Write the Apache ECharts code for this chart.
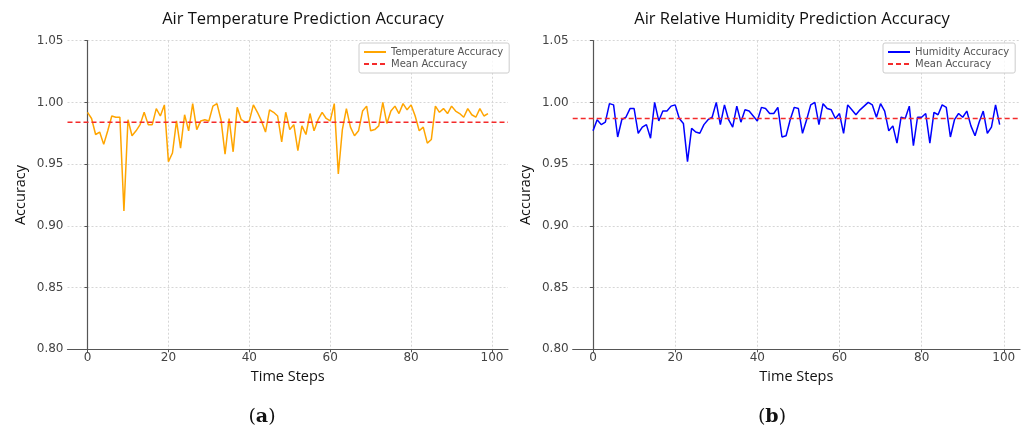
<!DOCTYPE html>
<html>
<head>
<meta charset="utf-8">
<script src="https://cdn.jsdelivr.net/npm/echarts@6/dist/echarts.min.js"></script>
<style>html,body{margin:0;padding:0;background:#fff;}#c{width:1025px;height:432px;}</style>
</head>
<body>
<div id="c"></div>
<script>
// ---- data ----
const timeSteps = Array.from({length: 100}, (_, i) => i);
const temperatureAccuracy = [
  0.992, 0.987, 0.974, 0.976, 0.966, 0.977, 0.989, 0.988, 0.988, 0.912,
  0.986, 0.973, 0.977, 0.982, 0.992, 0.982, 0.982, 0.995, 0.989, 0.998,
  0.952, 0.959, 0.985, 0.963, 0.990, 0.977, 0.999, 0.978, 0.985, 0.986,
  0.985, 0.997, 0.999, 0.986, 0.958, 0.987, 0.960, 0.996, 0.986, 0.984,
  0.985, 0.998, 0.992, 0.985, 0.976, 0.994, 0.992, 0.989, 0.968, 0.992,
  0.978, 0.982, 0.961, 0.981, 0.974, 0.991, 0.977, 0.986, 0.992, 0.987,
  0.985, 0.999, 0.942, 0.978, 0.995, 0.980, 0.973, 0.977, 0.993, 0.997,
  0.977, 0.978, 0.981, 1.000, 0.983, 0.993, 0.997, 0.991, 0.999, 0.994,
  0.998, 0.989, 0.977, 0.980, 0.967, 0.970, 0.997, 0.992, 0.995, 0.991,
  0.997, 0.993, 0.991, 0.988, 0.995, 0.990, 0.988, 0.995, 0.989, 0.991
];
const humidityAccuracy = [
  0.977, 0.986, 0.982, 0.984, 0.999, 0.998, 0.972, 0.986, 0.988, 0.995,
  0.995, 0.975, 0.980, 0.982, 0.971, 1.000, 0.985, 0.993, 0.993, 0.997,
  0.998, 0.987, 0.983, 0.952, 0.979, 0.976, 0.975, 0.982, 0.986, 0.988,
  1.000, 0.982, 0.998, 0.986, 0.980, 0.997, 0.984, 0.994, 0.993, 0.989,
  0.985, 0.996, 0.995, 0.991, 0.991, 0.996, 0.972, 0.973, 0.986, 0.996,
  0.995, 0.975, 0.986, 0.998, 1.000, 0.982, 0.999, 0.995, 0.994, 0.987,
  0.991, 0.975, 0.998, 0.994, 0.990, 0.994, 0.997, 1.000, 0.998, 0.988,
  0.999, 0.993, 0.977, 0.981, 0.967, 0.988, 0.987, 0.997, 0.965, 0.988,
  0.988, 0.991, 0.967, 0.992, 0.990, 0.998, 0.996, 0.972, 0.986, 0.991,
  0.988, 0.993, 0.981, 0.973, 0.984, 0.993, 0.975, 0.980, 0.998, 0.982
];
const temperatureMean = 0.984;
const humidityMean = 0.987;
const xTicks = [0, 20, 40, 60, 80, 100];
const yTicks = [0.80, 0.85, 0.90, 0.95, 1.00, 1.05];
const xRange = [-4.95, 103.95];
const yRange = [0.80, 1.05];
const titles = ['Air Temperature Prediction Accuracy', 'Air Relative Humidity Prediction Accuracy'];
const panelLabels = ['a', 'b'];

// ---- chart ----
const chart = echarts.init(document.getElementById('c'), null, {renderer: 'canvas'});
const tickFont = 'DejaVu Sans';
const textFont = 'Open Sans';
const axisColor = '#555';

function xAxisDef(gridIndex) {
  return {
    type: 'value', gridIndex, min: xRange[0], max: xRange[1],
    name: 'Time Steps', nameLocation: 'middle', nameGap: 18,
    nameTextStyle: {fontFamily: textFont, fontSize: 14.5, color: '#111'},
    axisLine: {show: true, onZero: false, lineStyle: {color: axisColor, width: 1.2}},
    axisTick: {show: true, length: 3, customValues: xTicks, lineStyle: {color: axisColor}},
    axisLabel: {customValues: xTicks, margin: 3, fontFamily: tickFont, fontSize: 12, color: '#444'},
    splitLine: {show: true, lineStyle: {color: '#d6d6d6', type: [2, 2], width: 1}}
  };
}
function yAxisDef(gridIndex) {
  return {
    type: 'value', gridIndex, min: yRange[0], max: yRange[1], interval: 0.05,
    name: 'Accuracy', nameLocation: 'middle', nameGap: 39, nameRotate: 90,
    nameTextStyle: {fontFamily: textFont, fontSize: 14.5, color: '#111'},
    axisLine: {show: true, lineStyle: {color: axisColor, width: 1.2}},
    axisTick: {show: true, length: 3, lineStyle: {color: axisColor}},
    axisLabel: {margin: 4, fontFamily: tickFont, fontSize: 12, color: '#444',
      formatter: v => v.toFixed(2)},
    splitLine: {show: true, lineStyle: {color: '#d6d6d6', type: [2, 2], width: 1}}
  };
}
function pairs(ys) { return timeSteps.map((x, i) => [x, ys[i]]); }
function meanLine(m) { return [[xRange[0], m], [xRange[1], m]]; }

const legendText = {fontFamily: tickFont, fontSize: 10, color: '#555', lineHeight: 10};
function legendDef(names, left) {
  return {data: names, left, top: 43, orient: 'vertical',
    itemWidth: 22, itemHeight: 8, itemGap: 2, padding: [4, 6, 4, 4],
    borderColor: '#ccc', borderWidth: 1, borderRadius: 2, backgroundColor: 'rgba(255,255,255,0.8)',
    itemStyle: {opacity: 0},
    textStyle: legendText, formatter: n => n.replace(/ [AB]$/, '')};
}

chart.setOption({
  animation: false,
  backgroundColor: '#fff',
  title: [
    {text: titles[0], left: 298, top: 6, textAlign: 'center',
     textStyle: {fontFamily: textFont, fontSize: 16.5, fontWeight: 'normal', color: '#111'}},
    {text: titles[1], left: 787, top: 6, textAlign: 'center',
     textStyle: {fontFamily: textFont, fontSize: 16.5, fontWeight: 'normal', color: '#111'}}
  ],
  grid: [
    {left: 67.5, top: 40.7, width: 440.5, height: 308.6},
    {left: 572.7, top: 40.7, width: 447.3, height: 308.6}
  ],
  xAxis: [xAxisDef(0), xAxisDef(1)],
  yAxis: [yAxisDef(0), yAxisDef(1)],
  legend: [
    legendDef(['Temperature Accuracy', 'Mean Accuracy A'], 359),
    legendDef(['Humidity Accuracy', 'Mean Accuracy B'], 883)
  ],
  series: [
    {name: 'Temperature Accuracy', type: 'line', xAxisIndex: 0, yAxisIndex: 0, data: pairs(temperatureAccuracy),
     showSymbol: false, symbol: 'none', lineStyle: {color: '#FFA500', width: 1.5}, itemStyle: {color: '#FFA500'}, z: 2},
    {name: 'Mean Accuracy A', type: 'line', xAxisIndex: 0, yAxisIndex: 0, data: meanLine(temperatureMean),
     showSymbol: false, symbol: 'none', lineStyle: {color: '#F42B2B', width: 1.5, type: [5, 3]}, itemStyle: {color: '#F42B2B'}, z: 3},
    {name: 'Humidity Accuracy', type: 'line', xAxisIndex: 1, yAxisIndex: 1, data: pairs(humidityAccuracy),
     showSymbol: false, symbol: 'none', lineStyle: {color: '#0000FF', width: 1.5}, itemStyle: {color: '#0000FF'}, z: 2},
    {name: 'Mean Accuracy B', type: 'line', xAxisIndex: 1, yAxisIndex: 1, data: meanLine(humidityMean),
     showSymbol: false, symbol: 'none', lineStyle: {color: '#F42B2B', width: 1.5, type: [5, 3]}, itemStyle: {color: '#F42B2B'}, z: 3}
  ],
  graphic: [
    {type: 'text', x: 262, y: 417, style: {text: '({b|' + panelLabels[0] + '})', rich: {b: {fontWeight: 'bold', fontFamily: 'DejaVu Serif', fontSize: 19}},
      fontFamily: 'DejaVu Serif', fontSize: 19, fill: '#111', align: 'center', verticalAlign: 'middle'}},
    {type: 'text', x: 772, y: 417, style: {text: '({b|' + panelLabels[1] + '})', rich: {b: {fontWeight: 'bold', fontFamily: 'DejaVu Serif', fontSize: 19}},
      fontFamily: 'DejaVu Serif', fontSize: 19, fill: '#111', align: 'center', verticalAlign: 'middle'}}
  ]
});
</script>
</body>
</html>
